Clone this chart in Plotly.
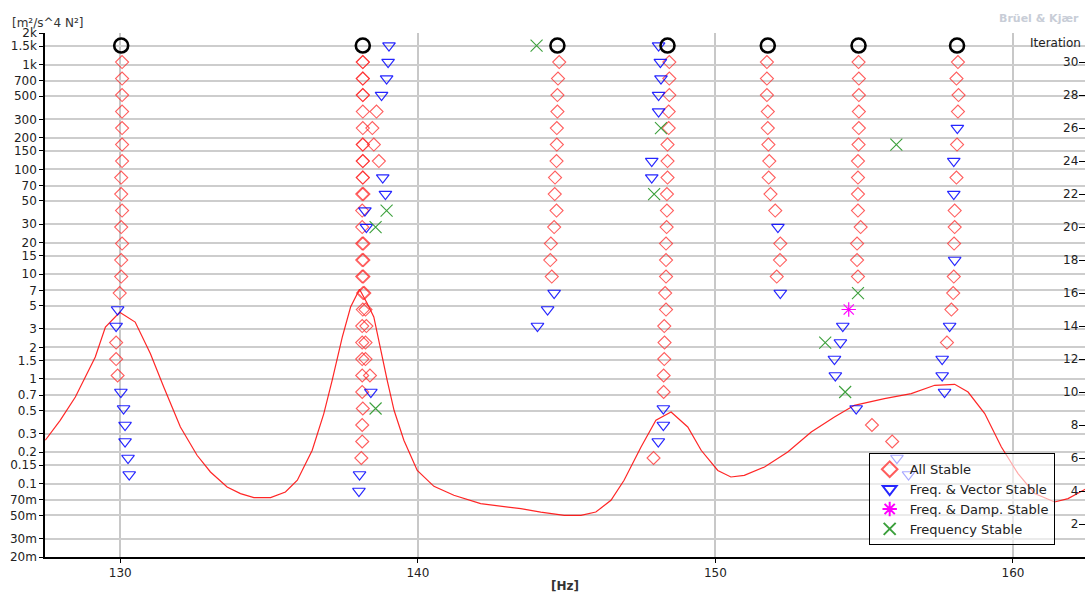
import plotly.graph_objects as go
import math

# ---------------- data ----------------
# Measured curve (left axis, log)  frequency [Hz] / value
curve_freq = [127.48, 127.98, 128.49, 129.16, 129.50, 129.98, 130.50, 131.01, 131.46, 132.02,
              132.58, 133.03, 133.59, 134.04, 134.49, 135.05, 135.55, 135.95, 136.45, 136.84,
              137.12, 137.46, 137.74, 138.04, 138.30, 138.52, 138.97, 139.20, 139.53, 139.98,
              140.54, 141.21, 142.11, 143.46, 144.13, 144.92, 145.48, 145.98, 146.49, 146.93,
              147.50, 148.00, 148.51, 149.07, 149.52, 150.08, 150.52, 150.97, 151.65, 152.43,
              153.22, 154.00, 154.67, 155.68, 156.58, 157.37, 158.04, 158.49, 159.05, 159.61,
              160.17, 160.73, 161.40, 161.85, 162.47]
curve_val = [0.26, 0.403, 0.673, 1.62, 3.13, 4.32, 3.49, 1.75, 0.838, 0.348,
             0.187, 0.1295, 0.0931, 0.0805, 0.0738, 0.0738, 0.0834, 0.108, 0.2086, 0.467,
             0.97, 2.51, 4.86, 7.17, 5.24, 3.90, 0.97, 0.502, 0.26, 0.134,
             0.0945, 0.0776, 0.0646, 0.0579, 0.0537, 0.05, 0.05, 0.0537, 0.0695, 0.108,
             0.224, 0.403, 0.484, 0.348, 0.2086, 0.134, 0.116, 0.1204, 0.1445, 0.201,
             0.312, 0.4334, 0.5604, 0.6494, 0.7248, 0.870, 0.889, 0.750, 0.467, 0.224,
             0.125, 0.0805, 0.067, 0.0722, 0.0899]

# All Stable (diamonds): frequency / iteration
as_freq = [130.06, 130.06, 130.06, 130.06, 130.06, 130.06, 130.06, 130.03, 130.03, 130.06,
           130.03, 130.06, 130.03, 130.03, 129.98, 129.86, 129.86, 129.91,
           138.15, 138.15, 138.15, 138.15, 138.15, 138.15, 138.15, 138.61, 138.15, 138.47,
           138.15, 138.15, 138.52, 138.15, 138.15, 138.69, 138.15, 138.15,
           138.13, 138.17, 138.13, 138.13, 138.13, 138.17, 138.13, 138.17, 138.13, 138.17,
           138.16, 138.20, 138.15, 138.24, 138.13, 138.27, 138.13, 138.24, 138.13, 138.24,
           138.13, 138.39, 138.13, 138.15, 138.13, 138.13, 138.10,
           144.75, 144.71, 144.69, 144.69, 144.67, 144.67, 144.66, 144.61, 144.60, 144.66,
           144.58, 144.47, 144.45, 144.50,
           148.45, 148.45, 148.45, 148.43, 148.43, 148.39, 148.39, 148.39, 148.37, 148.37,
           148.36, 148.34, 148.34, 148.34, 148.31, 148.34, 148.28, 148.29, 148.28, 148.26,
           148.26, 147.92,
           151.73, 151.73, 151.73, 151.76, 151.76, 151.78, 151.81, 151.79, 151.85, 152.01,
           152.18, 152.17, 152.06,
           154.81, 154.82, 154.82, 154.82, 154.82, 154.81, 154.79, 154.79, 154.79, 154.79,
           154.88, 154.76, 154.76, 154.79, 155.26, 155.94,
           158.15, 158.10, 158.17, 158.15, 158.12, 158.10, 158.04, 158.04, 158.02, 158.01,
           157.99, 157.93, 157.78]
as_iter = [30, 29, 28, 27, 26, 25, 24, 23, 22, 21,
           20, 19, 18, 17, 16, 13, 12, 11,
           30, 30, 29, 29, 28, 28, 27, 27, 26, 26,
           25, 25, 25, 24, 24, 24, 23, 23,
           22, 22, 21, 20, 19, 19, 18, 18, 17, 17,
           16, 16, 15, 15, 14, 14, 13, 13, 12, 12,
           11, 11, 10, 9, 8, 7, 6,
           30, 29, 28, 27, 26, 25, 24, 23, 22, 21,
           20, 19, 18, 17,
           30, 29, 28, 27, 26, 25, 24, 23, 22, 21,
           20, 19, 18, 17, 16, 15, 14, 13, 12, 11,
           10, 6,
           30, 29, 28, 27, 26, 25, 24, 23, 22, 21,
           19, 18, 17,
           30, 29, 28, 27, 26, 25, 24, 23, 22, 21,
           20, 19, 18, 17, 8, 7,
           30, 29, 28, 27, 25, 23, 21, 20, 19, 17,
           16, 15, 13]

# Freq. & Vector Stable (triangles)
fv_freq = [129.91, 129.86, 130.02, 130.11, 130.16, 130.16, 130.26, 130.30,
           139.03, 139.00, 138.95, 138.78, 138.82, 138.91, 138.22, 138.27, 138.42, 138.04, 138.02,
           144.58, 144.36, 144.02,
           148.09, 148.15, 148.17, 148.09, 148.09, 147.86, 147.86, 148.25, 148.25, 148.08,
           152.10, 152.18,
           154.28, 154.20, 154.00, 154.03, 154.73, 156.10, 156.49,
           158.13, 158.01, 158.01, 158.04, 157.87, 157.62, 157.62, 157.70]
fv_iter = [15, 14, 10, 9, 8, 7, 6, 5,
           31, 30, 29, 28, 23, 22, 21, 20, 10, 5, 4,
           16, 15, 14,
           31, 30, 29, 28, 27, 24, 23, 9, 8, 7,
           20, 16,
           14, 13, 12, 11, 9, 6, 5,
           26, 24, 22, 18, 14, 12, 11, 10]

# Freq. & Damp. Stable (star)
fd_freq = [154.48]
fd_iter = [15]

# Frequency Stable (x)
fs_freq = [138.95, 138.58, 138.58, 143.99, 148.17, 147.94, 156.08, 154.79, 153.69, 154.36]
fs_iter = [21, 20, 9, 31, 26, 22, 25, 16, 13, 10]

# Selected poles (black circles)
sel_freq = [130.03, 138.15, 144.69, 148.39, 151.76, 154.81, 158.12]
sel_iter = [31, 31, 31, 31, 31, 31, 31]

y_tick_vals = [0.02, 0.03, 0.05, 0.07, 0.1, 0.15, 0.2, 0.3, 0.5, 0.7, 1, 1.5, 2, 3, 5, 7,
               10, 15, 20, 30, 50, 70, 100, 150, 200, 300, 500, 700, 1000, 1500, 2000]
y_tick_text = ["20m", "30m", "50m", "70m", "0.1", "0.15", "0.2", "0.3", "0.5", "0.7", "1", "1.5",
               "2", "3", "5", "7", "10", "15", "20", "30", "50", "70", "100", "150", "200",
               "300", "500", "700", "1k", "1.5k", "2k"]
x_tick_vals = [130, 140, 150, 160]
iter_tick_vals = [2, 4, 6, 8, 10, 12, 14, 16, 18, 20, 22, 24, 26, 28, 30]

# ---------------- figure ----------------
FONT = "DejaVu Sans"
fig = go.Figure()

fig.add_trace(go.Scatter(x=curve_freq, y=curve_val, mode="lines",
                         line=dict(color="rgba(255,0,0,0.85)", width=1.2),
                         showlegend=False, yaxis="y"))

fig.add_trace(go.Scatter(x=as_freq, y=as_iter, mode="markers", name="All Stable",
                         marker=dict(symbol="diamond-open", size=10,
                                     color="rgba(255,40,40,0.75)", line=dict(width=1.1)),
                         yaxis="y2"))
fig.add_trace(go.Scatter(x=fv_freq, y=fv_iter, mode="markers", name="Freq. & Vector Stable",
                         marker=dict(symbol="triangle-down-open", size=11,
                                     color="rgba(0,0,255,0.85)", line=dict(width=1.2)),
                         yaxis="y2"))
fig.add_trace(go.Scatter(x=fd_freq, y=fd_iter, mode="markers", name="Freq. & Damp. Stable",
                         marker=dict(symbol="asterisk-open", size=12,
                                     color="rgb(255,0,255)", line=dict(width=1.2, color="rgb(255,0,255)")),
                         yaxis="y2"))
fig.add_trace(go.Scatter(x=fs_freq, y=fs_iter, mode="markers", name="Frequency Stable",
                         marker=dict(symbol="x-thin-open", size=12,
                                     color="rgb(60,160,60)", line=dict(width=1.1, color="rgb(60,160,60)")),
                         yaxis="y2"))
fig.add_trace(go.Scatter(x=sel_freq, y=sel_iter, mode="markers", showlegend=False,
                         marker=dict(symbol="circle-open", size=14, color="black",
                                     line=dict(width=2.6, color="black")),
                         yaxis="y2"))

fig.update_layout(
    width=1085, height=595,
    margin=dict(l=45, r=0, t=33, b=38),
    paper_bgcolor="white", plot_bgcolor="white",
    font=dict(family=FONT, size=12, color="#222"),
    xaxis=dict(range=[127.47, 162.42], tickvals=x_tick_vals, showgrid=True,
               gridcolor="rgb(200,200,200)", gridwidth=1.5, zeroline=False,
               showline=True, linecolor="black", linewidth=1.5,
               ticks="outside", ticklen=4, tickcolor="black",
               tickfont=dict(family=FONT, size=12, color="#222"),
               title=dict(text="<b>[Hz]</b>", font=dict(family=FONT, size=12, color="#333"),
                          standoff=2)),
    yaxis=dict(type="log", range=[math.log10(0.02), math.log10(2000)],
               tickvals=y_tick_vals, ticktext=y_tick_text, showgrid=True,
               gridcolor="rgb(205,205,205)", gridwidth=1.5, zeroline=False,
               showline=True, linecolor="black", linewidth=1.5,
               ticks="outside", ticklen=4, tickcolor="black",
               tickfont=dict(family=FONT, size=12, color="#222")),
    yaxis2=dict(overlaying="y", side="right", range=[0, 31.76],
                tickvals=iter_tick_vals, showgrid=False, zeroline=False,
                showline=False, ticks="inside", ticklen=6, tickcolor="black",
                ticklabelposition="inside",
                tickfont=dict(family=FONT, size=12, color="#222")),
    legend=dict(x=0.792, y=0.198, xanchor="left", yanchor="top",
                bgcolor="rgba(255,255,255,0.6)", bordercolor="black", borderwidth=1,
                font=dict(family=FONT, size=13, color="#222"), tracegroupgap=0,
                itemsizing="constant"),
    annotations=[
        dict(text="[m²/s^4 N²]", xref="paper", yref="paper", x=-0.034, y=1.0,
             xanchor="left", yanchor="bottom", yshift=1, showarrow=False,
             font=dict(family=FONT, size=12, color="#333")),
        dict(text="<b>Brüel & Kjær</b>", xref="paper", yref="paper", x=1.0, y=1.0,
             xanchor="right", yanchor="bottom", yshift=6, xshift=-4, showarrow=False,
             font=dict(family=FONT, size=11, color="rgb(200,205,215)")),
        dict(text="Iteration", xref="paper", yref="paper", x=1.0, y=1.0,
             xanchor="right", yanchor="top", yshift=-1, xshift=-2, showarrow=False,
             font=dict(family=FONT, size=12, color="#222")),
    ],
)

fig.write_html("out.html",
               config={"displayModeBar": False},
               post_script="document.body.style.margin='0px';"
                           "document.body.style.overflow='hidden';"
                           "document.documentElement.style.overflow='hidden';")
